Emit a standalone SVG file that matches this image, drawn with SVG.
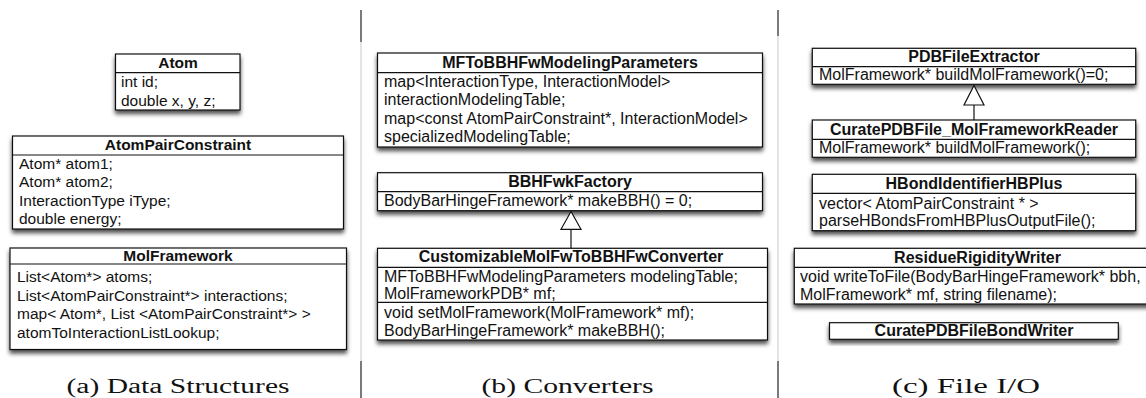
<svg xmlns="http://www.w3.org/2000/svg" width="1146" height="398" viewBox="0 0 1146 398">
<style>
.bx{fill:#fff;stroke:#111;stroke-width:1.2;filter:url(#sh)}
.ln{stroke:#111;stroke-width:1.2;fill:none}
.t{font-family:"Liberation Sans",Arial,sans-serif;font-size:15.5px;fill:#111}
.h{font-family:"Liberation Sans",Arial,sans-serif;font-size:15.5px;font-weight:bold;fill:#111;text-anchor:middle}
.t2{font-family:"Liberation Sans",Arial,sans-serif;font-size:16px;fill:#111}
.h2{font-family:"Liberation Sans",Arial,sans-serif;font-size:16px;font-weight:bold;fill:#111;text-anchor:middle}
.cap{font-family:"Liberation Serif","Times New Roman",serif;font-size:20px;fill:#111;text-anchor:middle}
.dv{stroke:#222;stroke-width:1.2}
.dvl{stroke:#bbb;stroke-width:0.8}
</style>
<defs>
<filter id="sh" x="-5%" y="-20%" width="110%" height="160%">
<feDropShadow dx="0" dy="3.5" stdDeviation="2.3" flood-color="#000" flood-opacity="0.7"/>
</filter>
</defs>
<rect width="1146" height="398" fill="#fff"/>
<g id="dividers">
<line class="dv" x1="361" y1="10" x2="361" y2="42"/>
<line class="dvl" x1="361" y1="42" x2="361" y2="361"/>
<line class="dv" x1="361" y1="361" x2="361" y2="398"/>
<line class="dv" x1="778" y1="10" x2="778" y2="36"/>
<line class="dvl" x1="778" y1="36" x2="778" y2="361"/>
<line class="dv" x1="778" y1="361" x2="778" y2="398"/>
</g>
<g id="atom">
<rect class="bx" x="115.5" y="54" width="124.5" height="56"/>
<line class="ln" x1="115.5" y1="72.7" x2="240" y2="72.7"/>
<text class="h" x="178" y="68.3">Atom</text>
<text class="t" x="121" y="87.3">int id;</text>
<text class="t" x="121" y="106">double x, y, z;</text>
</g>
<g id="atompairconstraint">
<rect class="bx" x="12.5" y="136" width="331" height="93"/>
<line class="ln" x1="12.5" y1="155" x2="343.5" y2="155"/>
<text class="h" x="178" y="150">AtomPairConstraint</text>
<text class="t" x="19" y="168.5">Atom* atom1;</text>
<text class="t" x="19" y="187">Atom* atom2;</text>
<text class="t" x="19" y="205.5">InteractionType iType;</text>
<text class="t" x="19" y="224">double energy;</text>
</g>
<g id="molframework">
<rect class="bx" x="10" y="248" width="336.5" height="101.5"/>
<line class="ln" x1="10" y1="264" x2="346.5" y2="264"/>
<text class="h" x="178" y="261">MolFramework</text>
<text class="t" x="17" y="282">List&lt;Atom*&gt; atoms;</text>
<text class="t" x="17" y="300.5">List&lt;AtomPairConstraint*&gt; interactions;</text>
<text class="t" x="17" y="319">map&lt; Atom*, List &lt;AtomPairConstraint*&gt; &gt;</text>
<text class="t" x="17" y="337.5">atomToInteractionListLookup;</text>
</g>
<g id="mftobbhfwmodelingparameters">
<rect class="bx" x="377.5" y="53" width="385" height="94"/>
<line class="ln" x1="377.5" y1="72.7" x2="762.5" y2="72.7"/>
<text class="h2" x="570" y="67.5">MFToBBHFwModelingParameters</text>
<text class="t2" x="384" y="86.7">map&lt;InteractionType, InteractionModel&gt;</text>
<text class="t2" x="384" y="105">interactionModelingTable;</text>
<text class="t2" x="384" y="123.5">map&lt;const AtomPairConstraint*, InteractionModel&gt;</text>
<text class="t2" x="384" y="142">specializedModelingTable;</text>
</g>
<g id="bbhfwkfactory">
<rect class="bx" x="377.5" y="172.7" width="385" height="38"/>
<line class="ln" x1="377.5" y1="191.7" x2="762.5" y2="191.7"/>
<text class="h2" x="570" y="187">BBHFwkFactory</text>
<text class="t2" x="384" y="205.5">BodyBarHingeFramework* makeBBH() = 0;</text>
</g>
<g id="customizablemolfwtobbhfwconverter">
<rect class="bx" x="377.5" y="248.3" width="390" height="91.7"/>
<line class="ln" x1="377.5" y1="267.3" x2="767.5" y2="267.3"/>
<line class="ln" x1="377.5" y1="302.3" x2="767.5" y2="302.3"/>
<text class="h2" x="571" y="262">CustomizableMolFwToBBHFwConverter</text>
<text class="t2" x="384" y="281.5">MFToBBHFwModelingParameters modelingTable;</text>
<text class="t2" x="384" y="299">MolFrameworkPDB* mf;</text>
<text class="t2" x="384" y="317.5">void setMolFramework(MolFramework* mf);</text>
<text class="t2" x="384" y="335.5">BodyBarHingeFramework* makeBBH();</text>
</g>
<g id="pdbfileextractor">
<rect class="bx" x="812.3" y="48.3" width="323.4" height="36"/>
<line class="ln" x1="812.3" y1="66.7" x2="1135.7" y2="66.7"/>
<text class="h2" x="974" y="62">PDBFileExtractor</text>
<text class="t2" x="819" y="80">MolFramework* buildMolFramework()=0;</text>
</g>
<g id="curatepdbfile_molframeworkreader">
<rect class="bx" x="812.3" y="120" width="323.4" height="37.3"/>
<line class="ln" x1="812.3" y1="139.3" x2="1135.7" y2="139.3"/>
<text class="h2" x="974" y="134.5">CuratePDBFile_MolFrameworkReader</text>
<text class="t2" x="819" y="153">MolFramework* buildMolFramework();</text>
</g>
<g id="hbondidentifierhbplus">
<rect class="bx" x="812.3" y="174.3" width="323.4" height="56.4"/>
<line class="ln" x1="812.3" y1="193.3" x2="1135.7" y2="193.3"/>
<text class="h2" x="974" y="189">HBondIdentifierHBPlus</text>
<text class="t2" x="819" y="208.5">vector&lt; AtomPairConstraint * &gt;</text>
<text class="t2" x="819" y="226">parseHBondsFromHBPlusOutputFile();</text>
</g>
<g id="residuerigiditywriter">
<rect class="bx" x="794.3" y="248.3" width="366.7" height="55.7"/>
<line class="ln" x1="794.3" y1="267.3" x2="1161" y2="267.3"/>
<text class="h2" x="977.5" y="262.5">ResidueRigidityWriter</text>
<text class="t2" x="800" y="282">void writeToFile(BodyBarHingeFramework* bbh,</text>
<text class="t2" x="800" y="299.5">MolFramework* mf, string filename);</text>
</g>
<g id="curatepdbfilebondwriter">
<rect class="bx" x="829.5" y="322.7" width="288.8" height="16.6"/>
<text class="h2" x="974" y="336">CuratePDBFileBondWriter</text>
</g>
<g id="connectors">
<line class="ln" x1="571" y1="229.3" x2="571" y2="248.3"/>
<polygon class="ln" points="571,211.5 561,229.3 581,229.3" style="fill:#fff"/>
<line class="ln" x1="974" y1="105" x2="974" y2="120"/>
<polygon class="ln" points="974,85.5 964,105 984,105" style="fill:#fff"/>
</g>
<g id="captions">
<text class="cap" x="178" y="392.5" textLength="223" lengthAdjust="spacingAndGlyphs">(a) Data Structures</text>
<text class="cap" x="567.5" y="392.5" textLength="172" lengthAdjust="spacingAndGlyphs">(b) Converters</text>
<text class="cap" x="966" y="392.5" textLength="148" lengthAdjust="spacingAndGlyphs">(c) File I/O</text>
</g>
</svg>
